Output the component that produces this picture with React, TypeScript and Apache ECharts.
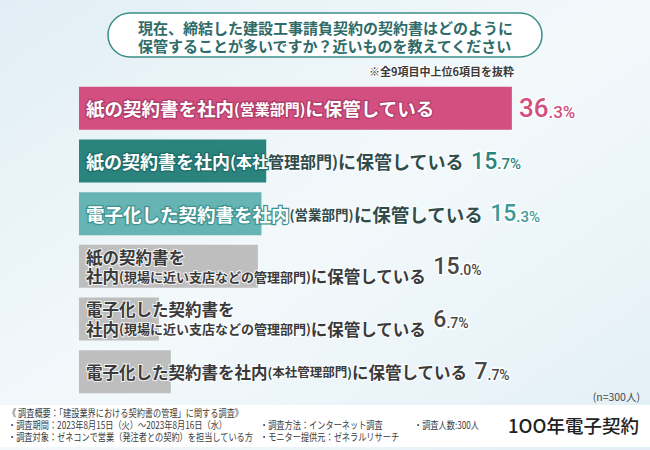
import React, { useEffect, useRef } from "react";
import * as echarts from "echarts";

const categories = [
  "紙の契約書を社内(営業部門)に保管している",
  "紙の契約書を社内(本社管理部門)に保管している",
  "電子化した契約書を社内(営業部門)に保管している",
  "紙の契約書を\n社内(現場に近い支店などの管理部門)に保管している",
  "電子化した契約書を\n社内(現場に近い支店などの管理部門)に保管している",
  "電子化した契約書を社内(本社管理部門)に保管している",
];
const values = [36.3, 15.7, 15.3, 15.0, 6.7, 7.7];

const titleLines = [
  "現在、締結した建設工事請負契約の契約書はどのように",
  "保管することが多いですか？近いものを教えてください",
];
const noteText = "※全9項目中上位6項目を抜粋";
const sampleText = "(n=300人)";
const footerLines = [
  "《 調査概要：「建設業界における契約書の管理」に関する調査》",
  "・調査期間：2023年8月15日（火）～2023年8月16日（水）",
  "・調査対象：ゼネコンで営業（発注者との契約）を担当している方",
];
const footerCol2 = ["・調査方法：インターネット調査", "・モニター提供元：ゼネラルリサーチ"];
const footerCol3 = ["・調査人数:300人"];
const logoText = "1OO年電子契約";

// styles
const JP = "'Noto Sans CJK JP', 'Noto Sans', sans-serif";
const NUM = "'Roboto', 'Liberation Sans', sans-serif";
const barColors = ["#d24f80", "#2b837d", "#66b4b4", "#bebebe", "#bebebe", "#bebebe"];
const whiteBorder = ["#b03c69", "#1f6d68", "#3f9393", "", "", ""];
const darkText = ["#2f2f2f", "#2f4b4a", "#2f4b4a", "#3a3a3a", "#3a3a3a", "#3a3a3a"];
const valueColors = ["#d24f80", "#2b837d", "#3f9a98", "#474747", "#474747", "#474747"];
const whiteCount = [99, 11, 11, 0, 0, 0];
const mainSize = [18.5, 18, 18.5, 16.5, 16.5, 16.5];
const parenSize = [15, 16, 13.5, 13, 13, 12.5];
const valSize = [26, 23, 23, 23, 23, 23];
const decSize = [17, 15, 15, 14, 14, 14];
const lineH = [24, 24, 24, 19.5, 19.5, 24];
const valueGap = 7;

type Seg = { key: string; text: string };

function nameLines(i: number): Seg[][] {
  const lines: Seg[][] = [[]];
  let inParen = false;
  let count = 0;
  for (const ch of categories[i]) {
    if (ch === "\n") {
      lines.push([]);
      continue;
    }
    if (ch === "(") inParen = true;
    const key = (count < whiteCount[i] ? "w" : "d") + (inParen ? "P" : "M");
    const line = lines[lines.length - 1];
    const last = line[line.length - 1];
    if (last && last.key === key) last.text += ch;
    else line.push({ key, text: ch });
    count++;
    if (ch === ")") inParen = false;
  }
  return lines;
}

function nameRich(i: number): string {
  return nameLines(i)
    .map((line) => line.map((s) => `{${s.key}|${s.text}}`).join(""))
    .join("\n");
}

let measureCtx: CanvasRenderingContext2D | null = null;
function lastLineWidth(i: number): number {
  if (!measureCtx) measureCtx = document.createElement("canvas").getContext("2d");
  const lines = nameLines(i);
  const line = lines[lines.length - 1];
  let w = 0;
  for (const s of line) {
    const size = s.key[1] === "P" ? parenSize[i] : mainSize[i];
    measureCtx!.font = `bold ${size}px ${JP}`;
    w += measureCtx!.measureText(s.text).width;
  }
  return w;
}

function richFor(i: number) {
  const common = { fontFamily: JP, fontWeight: "bold" as const, lineHeight: lineH[i] };
  const numCommon = {
    fontFamily: NUM,
    fontWeight: 500 as any,
    color: valueColors[i],
    textBorderColor: "#ffffff",
    textBorderWidth: 3,
    verticalAlign: "bottom" as const,
  };
  return {
    wM: { ...common, fontSize: mainSize[i], color: "#ffffff", textBorderColor: whiteBorder[i], textBorderWidth: 2.5 },
    wP: { ...common, fontSize: parenSize[i], color: "#ffffff", textBorderColor: whiteBorder[i], textBorderWidth: 2.5 },
    dM: { ...common, fontSize: mainSize[i], color: darkText[i], textBorderColor: "rgba(255,255,255,0.85)", textBorderWidth: 2 },
    dP: { ...common, fontSize: parenSize[i], color: darkText[i], textBorderColor: "rgba(255,255,255,0.85)", textBorderWidth: 2 },
    vi: { ...numCommon, fontSize: valSize[i], lineHeight: valSize[i] },
    vd: { ...numCommon, fontSize: decSize[i], lineHeight: decSize[i], padding: [0, 0, 1, 0] },
  };
}

function valueRich(v: number): string {
  const s = v.toFixed(1);
  const [ip, dp] = s.split(".");
  return `{vi|${ip}}{vd|.${dp}%}`;
}

export default function App() {
  const ref = useRef<HTMLDivElement>(null);
  useEffect(() => {
    document.body.style.margin = "0";
    if (!ref.current) return;
    const chart = echarts.init(ref.current, null, { renderer: "svg" });

    const titleBox = {
      type: "group",
      children: [
        {
          type: "rect",
          shape: { x: 108, y: 13, width: 434, height: 44, r: 22 },
          style: { fill: "#ffffff", stroke: "#3d8f8a", lineWidth: 1.5 },
        },
        ...titleLines.map((t, k) => ({
          type: "text",
          x: 138,
          y: 27 + k * 18,
          style: {
            text: t,
            fontFamily: JP,
            fontWeight: "bold",
            fontSize: 15,
            fill: "#2e6b69",
            verticalAlign: "middle",
          },
        })),
      ],
    };

    const footerText = (t: string, x: number, y: number) => ({
      type: "text",
      x,
      y,
      scaleX: 0.82,
      style: { text: t, fontFamily: JP, fontSize: 10, fill: "#3c3c3c", verticalAlign: "middle" },
    });

    const option: any = {
      animation: false,
      backgroundColor: {
        type: "linear",
        x: 0,
        y: 0,
        x2: 1,
        y2: 1,
        colorStops: [
          { offset: 0, color: "#e1eef5" },
          { offset: 0.5, color: "#f3f9fb" },
          { offset: 1, color: "#e2eff6" },
        ],
      },
      grid: { left: 79, right: 94, top: 82, bottom: 52, containLabel: false },
      xAxis: { type: "value", min: 0, max: 40, show: false },
      yAxis: { type: "category", data: categories, inverse: true, show: false },
      series: [
        {
          type: "bar",
          barWidth: 43,
          silent: true,
          data: values.map((v, i) => ({
            value: v,
            itemStyle: { color: barColors[i] },
            label: { rich: richFor(i) },
          })),
          label: {
            show: true,
            position: "insideLeft",
            distance: 7,
            formatter: (p: any) => nameRich(p.dataIndex),
          },
        },
        {
          type: "bar",
          barWidth: 43,
          barGap: "-100%",
          silent: true,
          itemStyle: { color: "rgba(0,0,0,0)" },
          data: values.map((v, i) => ({
            value: v,
            label: {
              position: i === 0 ? "right" : "insideLeft",
              rich: { ...richFor(i), pad: { width: lastLineWidth(i) + valueGap, height: 1 } },
            },
          })),
          label: {
            show: true,
            distance: 7,
            formatter: (p: any) =>
              p.dataIndex === 0 ? valueRich(values[0]) : `{pad|}${valueRich(values[p.dataIndex])}`,
          },
        },
      ],
      graphic: [
        titleBox,
        {
          type: "text",
          x: 514,
          y: 71,
          style: {
            text: noteText,
            fontFamily: JP,
            fontWeight: "bold",
            fontSize: 11,
            fill: "#3a3a3a",
            align: "right",
            verticalAlign: "middle",
            stroke: "#ffffff",
            lineWidth: 2,
          },
        },
        {
          type: "text",
          x: 640,
          y: 396,
          style: {
            text: sampleText,
            fontFamily: JP,
            fontSize: 10.5,
            fill: "#4a4a4a",
            align: "right",
            verticalAlign: "middle",
          },
        },
        {
          type: "rect",
          shape: { x: 0, y: 405, width: 650, height: 42 },
          style: { fill: "#ffffff" },
        },
        ...footerLines.map((t, k) => footerText(t, 8, 413 + k * 12)),
        ...footerCol2.map((t, k) => footerText(t, 260, 425 + k * 12)),
        ...footerCol3.map((t, k) => footerText(t, 414, 425 + k * 12)),
        {
          type: "text",
          x: 508,
          y: 425,
          style: {
            text: logoText,
            fontFamily: JP,
            fontSize: 18.5,
            fontWeight: 500,
            fill: "#222222",
            verticalAlign: "middle",
          },
        },
      ],
    };
    chart.setOption(option);
    return () => chart.dispose();
  }, []);
  return <div ref={ref} style={{ width: 650, height: 450 }} />;
}
